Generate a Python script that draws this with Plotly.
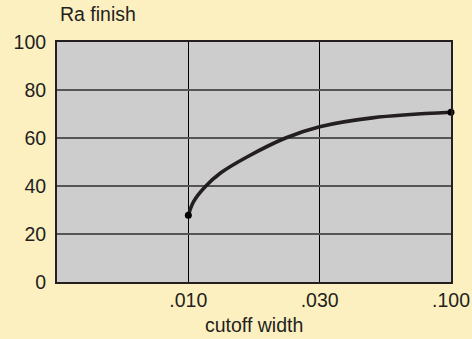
import plotly.graph_objects as go

# categorical-like evenly spaced cutoff positions
tick_pos = [1, 2, 3]
tick_labels = [".010", ".030", ".100"]

# curve (x position on evenly spaced cutoff axis, Ra finish)
curve_x = [1.0, 1.04, 1.13, 1.25, 1.45, 1.74, 2.0, 2.4, 3.0]
curve_y = [27.8, 33.5, 39.8, 45.6, 52.2, 60.0, 64.7, 68.4, 70.7]

end_x = [curve_x[0], curve_x[-1]]
end_y = [curve_y[0], curve_y[-1]]

fig = go.Figure()
fig.add_trace(go.Scatter(x=curve_x, y=curve_y, mode="lines",
                         line=dict(color="#231F20", width=3.6, shape="spline", smoothing=1.0),
                         hoverinfo="skip", showlegend=False, cliponaxis=False))
fig.add_trace(go.Scatter(x=end_x, y=end_y, mode="markers",
                         marker=dict(color="#000000", size=7),
                         showlegend=False, cliponaxis=False))

font = dict(family="Liberation Sans, Arial, sans-serif", size=19.5, color="#231F20")

fig.update_layout(
    width=472, height=339,
    margin=dict(l=57, r=21, t=42, b=57),
    paper_bgcolor="#FDF0C0",
    plot_bgcolor="#CDCDCD",
    font=font,
    xaxis=dict(range=[0, 3], tickvals=tick_pos, ticktext=tick_labels,
               showgrid=True, gridcolor="#000000", gridwidth=1,
               showline=True, linecolor="#231F20", linewidth=2, mirror=True,
               ticks="", zeroline=False, fixedrange=True, automargin=False),
    yaxis=dict(range=[0, 100], tickvals=[0, 20, 40, 60, 80, 100],
               showgrid=True, gridcolor="#555555", gridwidth=1.5,
               showline=True, linecolor="#231F20", linewidth=2, mirror=True,
               ticks="outside", ticklen=5, tickcolor="rgba(0,0,0,0)",
               zeroline=False, fixedrange=True, automargin=False),
    annotations=[
        dict(text="Ra finish", xref="paper", yref="paper", x=0.0, y=1.0,
             xshift=1, yshift=15, xanchor="left", yanchor="bottom",
             showarrow=False, font=font),
        dict(text="cutoff width", xref="paper", yref="paper", x=0.5, y=0.0,
             yshift=-30, xanchor="center", yanchor="top",
             showarrow=False, font=font),
    ],
)

fig.write_html("out.html", config={"displayModeBar": False},
               post_script="document.body.style.margin='0';")
